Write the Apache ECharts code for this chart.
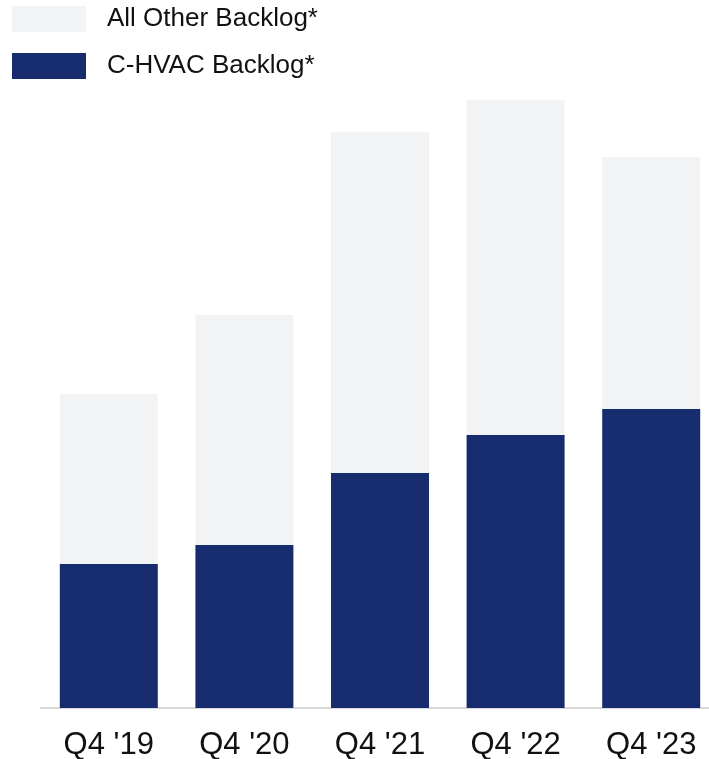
<!DOCTYPE html>
<html>
<head>
<meta charset="utf-8">
<script src="https://cdn.jsdelivr.net/npm/echarts@6/dist/echarts.min.js"></script>
<style>
html,body{margin:0;padding:0;background:#fff;}
#chart{width:709px;height:759px;}
</style>
</head>
<body>
<div id="chart"></div>
<script>
// Backlog (relative units)
var categories = ["Q4 '19", "Q4 '20", "Q4 '21", "Q4 '22", "Q4 '23"];
var chvacBacklog = [1.44, 1.63, 2.35, 2.73, 2.99];
var otherBacklog = [1.70, 2.30, 3.41, 3.35, 2.52];
var seriesNames = ["All Other Backlog*", "C-HVAC Backlog*"];

var chart = echarts.init(document.getElementById('chart'), null, {renderer: 'canvas'});
chart.setOption({
  animation: false,
  backgroundColor: '#ffffff',
  textStyle: {fontFamily: 'Liberation Sans, Arial, sans-serif'},
  legend: {
    orient: 'vertical',
    left: 12,
    top: 6,
    padding: 0,
    itemWidth: 74,
    itemHeight: 26,
    itemGap: 21,
    icon: 'rect',
    data: seriesNames,
    selectedMode: false,
    textStyle: {fontSize: 26, color: '#111', padding: [2, 0, 0, 16], fontFamily: 'Liberation Sans, Arial, sans-serif'}
  },
  grid: {left: 41, top: 100, width: 678, height: 608, containLabel: false, outerBoundsMode: 'none'},
  xAxis: {
    type: 'category',
    data: categories,
    axisLine: {show: true, lineStyle: {color: '#d9d9d9', width: 2}},
    axisTick: {show: false},
    axisLabel: {fontSize: 31, color: '#111', margin: 22, fontFamily: 'Liberation Sans, Arial, sans-serif'}
  },
  yAxis: {
    type: 'value',
    min: 0,
    max: 6.08,
    show: false,
    splitLine: {show: false}
  },
  series: [
    {
      name: seriesNames[1],
      type: 'bar',
      stack: 'total',
      barWidth: 98,
      data: chvacBacklog,
      itemStyle: {color: '#172c6f'}
    },
    {
      name: seriesNames[0],
      type: 'bar',
      stack: 'total',
      barWidth: 98,
      data: otherBacklog,
      itemStyle: {color: '#f2f3f5'}
    }
  ]
});
</script>
</body>
</html>
